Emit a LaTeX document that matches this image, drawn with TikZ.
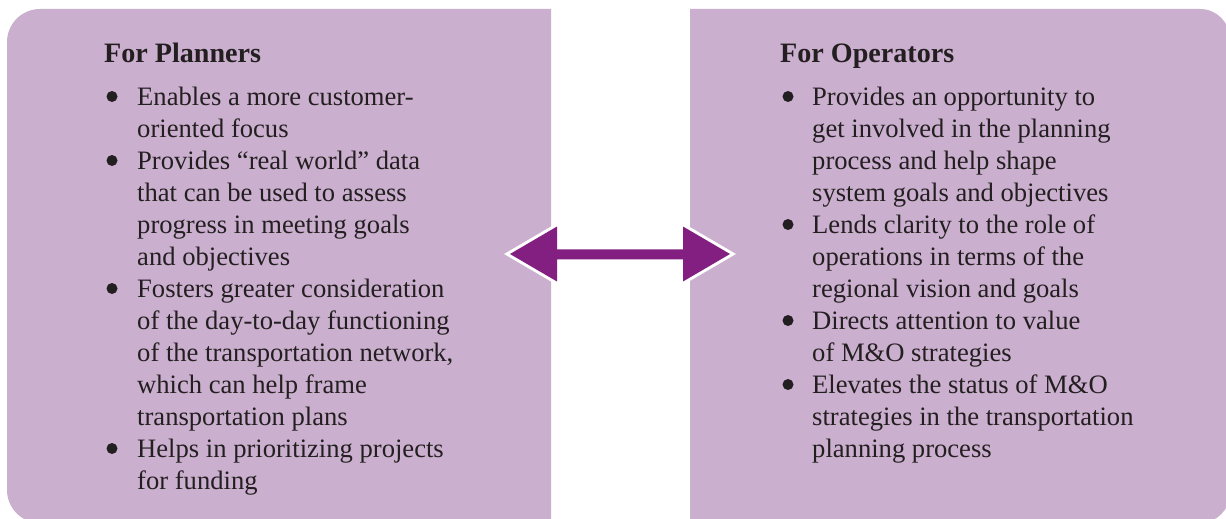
\documentclass[tikz,border=0pt]{standalone}
\usepackage{fontspec}
\setmainfont{Liberation Serif}
\definecolor{boxfill}{HTML}{CBAFCF}
\definecolor{arrowc}{HTML}{841F82}
\definecolor{txt}{HTML}{231F20}
\begin{document}
\begin{tikzpicture}[x=1pt,y=-1pt,
  line/.style={anchor=base west, inner sep=0pt, font=\fontsize{26.6}{32}\selectfont, text=txt},
  title/.style={anchor=base west, inner sep=0pt, font=\fontsize{28.1}{32}\selectfont\bfseries, text=txt},
  bul/.style={fill=txt}]
\useasboundingbox (0,0) rectangle (1226,519);
% boxes
\fill[boxfill] (551,9) -- (40,9) arc(-90:-180:33) -- (7,490) arc(180:90:33) -- (551,523) -- cycle;
\fill[boxfill] (690,9) -- (1200,9) arc(-90:0:30) -- (1230,493) arc(0:90:30) -- (690,523) -- cycle;
% double arrow
\coordinate (tipL) at (510,254);
\coordinate (tipR) at (730,254);
\def\arrowpath{(tipL) -- (557,226.5) -- (557,249.3) -- (683,249.3) -- (683,226.5) -- (tipR) -- (683,281.5) -- (683,259.3) -- (557,259.3) -- (557,281.5) -- cycle}
\filldraw[white, line width=6pt, line join=miter] \arrowpath;
\fill[arrowc] \arrowpath;
% left box
\node[title] (tP) at (104,63) {For Planners};
\foreach \y in {105,169,297,457} \fill[bul] (112,\y-8.5) circle (5.5);
\node[line] (p1) at (137,105) {Enables a more customer-};
\node[line] (p2) at (137,137) {oriented focus};
\node[line] (p3) at (137,169) {Provides “real world” data};
\node[line] (p4) at (137,201) {that can be used to assess};
\node[line] (p5) at (137,233) {progress in meeting goals};
\node[line] (p6) at (137,265) {and objectives};
\node[line] (p7) at (137,297) {Fosters greater consideration};
\node[line] (p8) at (137,329) {of the day-to-day functioning};
\node[line] (p9) at (137,361) {of the transportation network,};
\node[line] (p10) at (137,393) {which can help frame};
\node[line] (p11) at (137,425) {transportation plans};
\node[line] (p12) at (137,457) {Helps in prioritizing projects};
\node[line] (p13) at (137,489) {for funding};
% right box
\node[title] (tO) at (780,63) {For Operators};
\foreach \y in {105,233,329,393} \fill[bul] (788,\y-8.5) circle (5.5);
\node[line] (o1) at (812,105) {Provides an opportunity to};
\node[line] (o2) at (812,137) {get involved in the planning};
\node[line] (o3) at (812,169) {process and help shape};
\node[line] (o4) at (812,201) {system goals and objectives};
\node[line] (o5) at (812,233) {Lends clarity to the role of};
\node[line] (o6) at (812,265) {operations in terms of the};
\node[line] (o7) at (812,297) {regional vision and goals};
\node[line] (o8) at (812,329) {Directs attention to value};
\node[line] (o9) at (812,361) {of M\&O strategies};
\node[line] (o10) at (812,393) {Elevates the status of M\&O};
\node[line] (o11) at (812,425) {strategies in the transportation};
\node[line] (o12) at (812,457) {planning process};
\end{tikzpicture}
\end{document}
